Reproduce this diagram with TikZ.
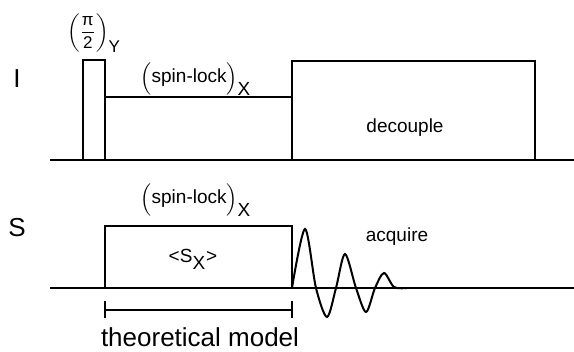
\documentclass[tikz,border=0pt]{standalone}
\usepackage{amsmath}
\usepackage{fontspec}
\setmainfont{Liberation Sans}
\usepackage{tikz}
\usetikzlibrary{arrows.meta,positioning}
\tikzset{
  pulse/.style={draw, line width=1pt},
  axis/.style={line width=1pt},
  lbl/.style={font=\fontsize{9.5}{11}\selectfont, inner sep=1pt},
  chan/.style={font=\fontsize{13}{15}\selectfont, inner sep=0pt},
  span/.style={{Bar[width=8.5pt]}-{Bar[width=8.5pt]}, line width=1pt}
}

\begin{document}
\begin{tikzpicture}[x=0.5pt, y=-0.5pt]
  \useasboundingbox (0,0) rectangle (574,352);
  % I channel
  \node[chan] (chI) at (17,79) {I};
  \draw[axis] (50,160) -- (574,160);
  \draw[pulse] (83,160) rectangle (105,60);
  \draw[pulse] (105,160) rectangle (292,97);
  \draw[pulse] (292,160) rectangle (535,61);
  \node[lbl, inner sep=0pt, font=\fontsize{8.5}{10}\selectfont] (pihalf) at (94,33) {$\left(\dfrac{\text{π}}{\text{2}}\right)_{\mbox{Y}}$};
  \node[lbl] (lockI) at (196,79) {$\Bigl(\text{spin-lock}\Bigr)_{\mbox{X}}$};
  \node[lbl] (dec) at (405,128) {decouple};
  % S channel
  \node[chan] (chS) at (17,228) {S};
  \draw[axis] (50,288) -- (574,288);
  \draw[pulse] (105,288) rectangle (292,226);
  \node[lbl] (lockS) at (196,200) {$\Bigl(\text{spin-lock}\Bigr)_{\mbox{X}}$};
  \node[lbl] (sx) at (193,259) {<S$_{\mbox{X}}$>};
  \draw[line width=1pt] plot[smooth] coordinates {(292,288) (305,229) (316,288) (327,317) (336,288) (345,254) (356,288) (366,312) (375,288) (384,273) (394,287) (407,288)};
  \node[lbl] (acq) at (397,237) {acquire};
  % model span
  \coordinate (mL) at (104,310);
  \coordinate (mR) at (293,310);
  \draw[span] (mL) -- (mR);
  \node[chan] (model) at (200,337) {theoretical model};
\end{tikzpicture}
\end{document}
